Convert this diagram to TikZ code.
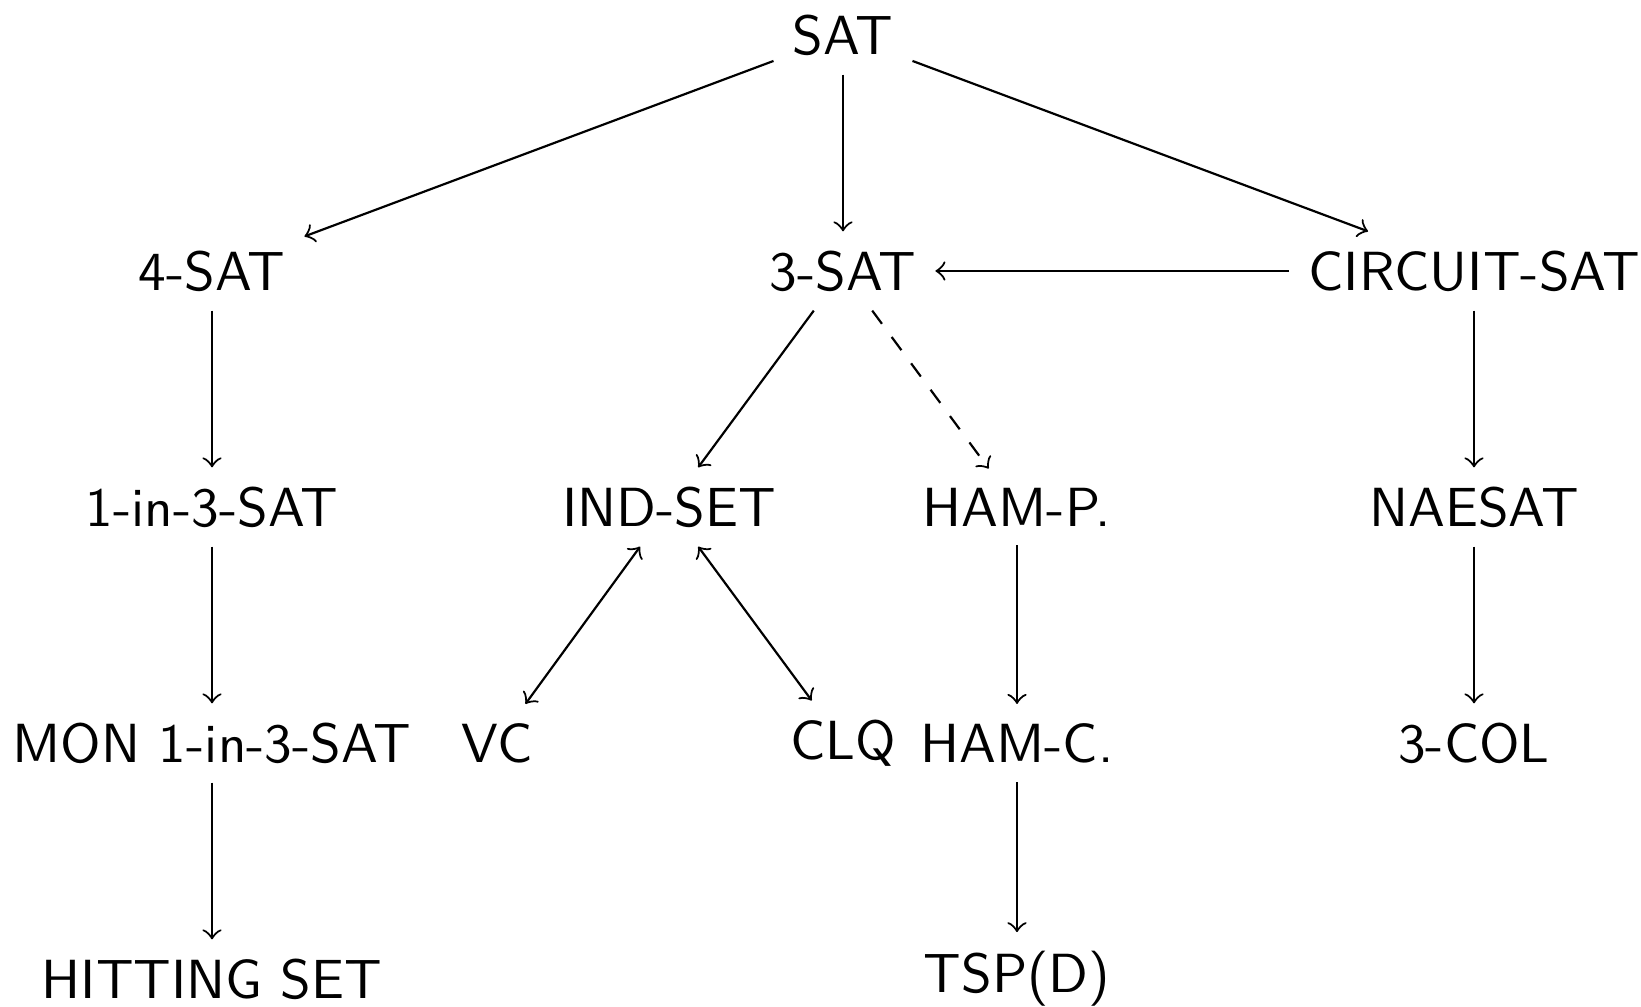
\documentclass[tikz,border=0pt]{standalone}
\usepackage{tikz}

\begin{document}
\begin{tikzpicture}[
                x=0.18315pt, y=-0.18315pt,
                every node/.style={font=\fontsize{10.1}{12}\sffamily},
                reduce/.style={->},
                guess/.style={->,dashed},
                equiv/.style={<->}
            ]
                \useasboundingbox (0,0) rectangle (1641,1007);
                % problems, row by row
                \node (sat) at (843,35) {SAT};
                \node (foursat) at (212,271) {4-SAT};
                \node (threesat) at (843,271) {3-SAT};
                \node (circuit) at (1474,271) {CIRCUIT-SAT};
                \node (oneinthree) at (212,507) {1-in-3-SAT};
                \node (indset) at (669,507) {IND-SET};
                \node (hamp) at (1017,507) {HAM-P.};
                \node (naesat) at (1474,507) {NAESAT};
                \node (mon) at (212,743) {MON 1-in-3-SAT};
                \node (vc) at (497,743) {VC};
                \node (clq) at (843,743) {CLQ};
                \node (hamc) at (1017,743) {HAM-C.};
                \node (threecol) at (1474,743) {3-COL};
                \node (hitting) at (212,979) {HITTING SET};
                \node (tsp) at (1017,979) {TSP(D)};
                % reductions
                \foreach \a/\b in {sat/foursat,sat/threesat,sat/circuit,circuit/threesat,
                                   foursat/oneinthree,oneinthree/mon,mon/hitting,
                                   threesat/indset,hamp/hamc,hamc/tsp,
                                   circuit/naesat,naesat/threecol} {
                    \draw [reduce] (\a) -- (\b);
                }
                \draw [guess] (threesat) -- (hamp);
                \draw [equiv] (indset) -- (vc);
                \draw [equiv] (indset) -- (clq);
            \end{tikzpicture}
\end{document}
